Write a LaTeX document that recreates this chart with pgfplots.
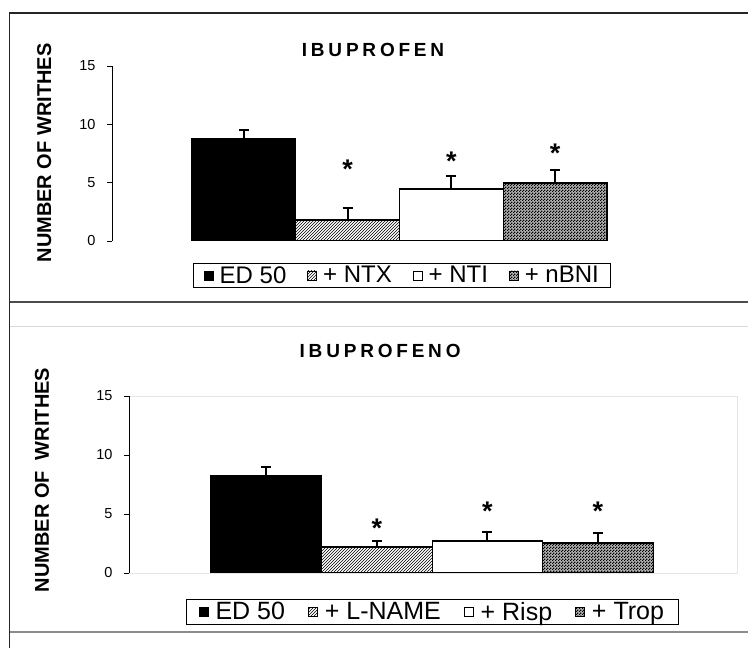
\documentclass[border=0pt]{standalone}
\usepackage{fontspec}
\setmainfont{Liberation Sans}
\usepackage{pgfplots}
\pgfplotsset{compat=1.18}
\usetikzlibrary{patterns}

\pgfdeclarepatternformonly{checker}{\pgfpointorigin}{\pgfqpoint{3pt}{3pt}}{\pgfqpoint{3pt}{3pt}}{%
  \pgfpathrectangle{\pgfpointorigin}{\pgfqpoint{1.5pt}{1.5pt}}%
  \pgfpathrectangle{\pgfqpoint{1.5pt}{1.5pt}}{\pgfqpoint{1.5pt}{1.5pt}}%
  \pgfusepath{fill}}

\pgfplotsset{
  mybar/.style={ybar, bar width=1, bar shift=0pt, draw=black, line width=1.2pt,
    legend image code/.code={\draw[##1, line width=0.8pt] (0pt,-4.5pt) rectangle (9pt,4.5pt);},
    error bars/y dir=plus, error bars/y explicit,
    error bars/error bar style={line width=1.8pt, black},
    error bars/error mark options={rotate=90, mark size=5pt, line width=1.8pt, black}},
  stars/.style={forget plot, draw=none, mark=none, nodes near coords={*},
    every node near coord/.append style={font=\bfseries\fontsize{27}{27}\selectfont, anchor=base, yshift=-15.5pt, inner sep=0pt}},
  common/.style={
    scale only axis, anchor=south west,
    ymin=0, ymax=15, ytick={0,5,10,15},
    hide x axis, axis y line*=left,
    axis line style={line width=0.8pt, black},
    tick align=outside, major tick length=5pt,
    tick style={black, line width=0.8pt},
    yticklabel style={font=\fontsize{14.5}{14.5}\selectfont, xshift=-8pt},
    /pgf/number format/assume math mode=true,
    title style={anchor=center, font=\bfseries\fontsize{19}{19}\selectfont},
    ylabel style={anchor=center, font=\bfseries\fontsize{20}{20}\selectfont},
    legend columns=4,
    legend style={anchor=center, draw=black, line width=0.8pt, fill=white,
      font=\fontsize{24}{24}\selectfont, inner ysep=1pt, inner xsep=10pt,
      nodes={inner ysep=1.5pt, inner xsep=2pt},
      /tikz/every odd column/.append style={column sep=4pt},
      /tikz/every even column/.append style={column sep=19pt}},
  }
}

\begin{document}
\begin{tikzpicture}[x=1pt,y=1pt]
\path[use as bounding box] (0,0) rectangle (748,648);
% panel frames
\draw[line width=1.2pt, black!85] (9.5,0) -- (9.5,635) -- (748,635);
\draw[line width=1.2pt, black!70] (9.5,346) -- (748,346);
\draw[line width=1pt, black!15] (9.5,321) -- (748,321);
\draw[line width=1.2pt, black!45] (9.5,16) -- (748,16);

% ---------- top panel ----------
\begin{axis}[common,
  at={(112pt,407pt)}, width=575pt, height=175pt,
  xmin=-0.27, xmax=5.27,
  title={\addfontfeature{LetterSpace=20}IBUPROFEN},
  title style={at={(axis description cs:0.454,1.058)}},
  ylabel={NUMBER OF WRITHES},
  ylabel style={at={(axis description cs:-0.118,0.503)}},
  legend style={at={(axis description cs:0.505,-0.197)}},
]
\addplot[mybar, fill=black] coordinates {(1,8.74) +- (0,0.77)};
\addplot[mybar, pattern=north east lines] coordinates {(2,1.80) +- (0,1.03)};
\addplot[mybar, fill=white] coordinates {(3,4.46) +- (0,1.11)};
\addplot[mybar, fill=black!30, postaction={pattern=checker}] coordinates {(4,4.97) +- (0,1.11)};
\addplot[stars] coordinates {(2,6.68) (3,7.37) (4,8.05)};
\legend{ED 50, + NTX, + NTI, + nBNI}
\end{axis}

% ---------- bottom panel ----------
\begin{axis}[common,
  at={(129pt,75pt)}, width=608pt, height=177pt,
  xmin=-0.242, xmax=5.258,
  axis background/.style={draw=black!10, line width=0.8pt},
  title={\addfontfeature{LetterSpace=20}IBUPROFENO},
  title style={at={(axis description cs:0.413,1.22)}},
  ylabel={NUMBER OF\ \ WRITHES},
  ylabel style={at={(axis description cs:-0.143,0.525)}},
  legend style={at={(axis description cs:0.499,-0.22)}, font=\fontsize{25}{25}\selectfont,
    inner xsep=12pt,
    /tikz/every odd column/.append style={column sep=5pt},
    /tikz/every even column/.append style={column sep=21pt}},
]
\addplot[mybar, fill=black] coordinates {(1,8.22) +- (0,0.76)};
\addplot[mybar, pattern=north east lines] coordinates {(2,2.20) +- (0,0.51)};
\addplot[mybar, fill=white] coordinates {(3,2.71) +- (0,0.76)};
\addplot[mybar, fill=black!30, postaction={pattern=checker}] coordinates {(4,2.54) +- (0,0.85)};
\addplot[stars] coordinates {(2,4.32) (3,5.76) (4,5.76)};
\legend{ED 50, + L-NAME, + Risp, + Trop}
\end{axis}
\end{tikzpicture}
\end{document}
